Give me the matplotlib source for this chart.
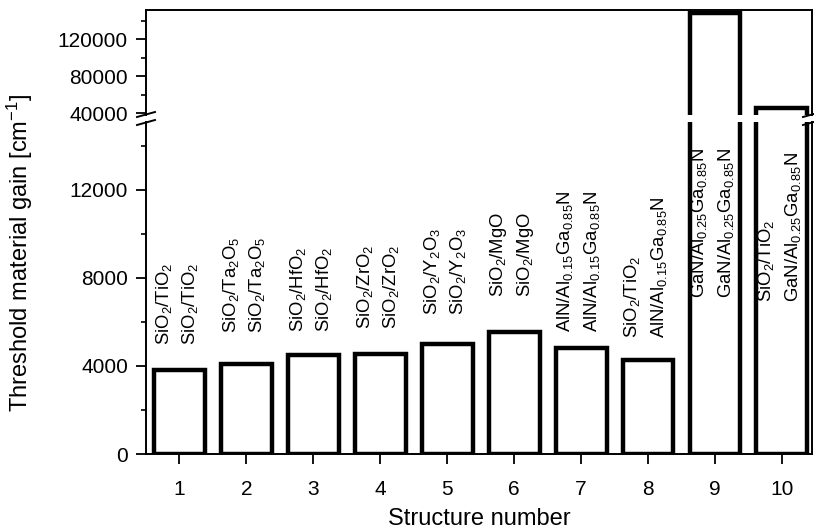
import matplotlib
matplotlib.use("Agg")
import matplotlib.pyplot as plt
from matplotlib.lines import Line2D

plt.rcParams["font.family"] = ["Liberation Sans", "DejaVu Sans"]
plt.rcParams["mathtext.fontset"] = "custom"
plt.rcParams["mathtext.rm"] = "Liberation Sans"
plt.rcParams["mathtext.it"] = "Liberation Sans:italic"
plt.rcParams["mathtext.default"] = "regular"

# data
structures = [1, 2, 3, 4, 5, 6, 7, 8, 9, 10]
gain = [3830, 4100, 4520, 4550, 5000, 5560, 4820, 4250, 148400, 45700]

label_left = [r"SiO$_2$/TiO$_2$", r"SiO$_2$/Ta$_2$O$_5$", r"SiO$_2$/HfO$_2$",
              r"SiO$_2$/ZrO$_2$", r"SiO$_2$/Y$_2$O$_3$", r"SiO$_2$/MgO",
              r"AlN/Al$_{0.15}$Ga$_{0.85}$N", r"SiO$_2$/TiO$_2$",
              r"GaN/Al$_{0.25}$Ga$_{0.85}$N", r"SiO$_2$/TiO$_2$"]
label_right = [r"SiO$_2$/TiO$_2$", r"SiO$_2$/Ta$_2$O$_5$", r"SiO$_2$/HfO$_2$",
               r"SiO$_2$/ZrO$_2$", r"SiO$_2$/Y$_2$O$_3$", r"SiO$_2$/MgO",
               r"AlN/Al$_{0.15}$Ga$_{0.85}$N", r"AlN/Al$_{0.15}$Ga$_{0.85}$N",
               r"GaN/Al$_{0.25}$Ga$_{0.85}$N", r"GaN/Al$_{0.25}$Ga$_{0.85}$N"]
# where each label text starts (data units of the lower panel)
label_start = [4950, 5510, 5560, 5680, 6320, 7150, 5560, 5270, 7090, 6900]

fig = plt.figure(figsize=(8.14, 5.32), dpi=100)
ax_top = fig.add_axes([0.1794, 0.7838, 0.8182, 0.1974])
ax_bot = fig.add_axes([0.1794, 0.1466, 0.8182, 0.6241])

for ax in (ax_top, ax_bot):
    ax.bar(structures, gain, width=0.76, facecolor="white", edgecolor="black",
           linewidth=3.2, joinstyle="miter")
    ax.set_xlim(0.5, 10.45)
    for s in ax.spines.values():
        s.set_linewidth(1.4)
    ax.tick_params(axis="y", which="major", direction="out", length=7, width=1.3,
                   labelsize=15, pad=6)
    ax.tick_params(axis="y", which="minor", direction="out", length=3.5, width=1.2)

ax_top.set_ylim(38160, 151700)
ax_top.set_yticks([40000, 80000, 120000])
ax_top.set_yticks([60000, 100000, 140000], minor=True)
ax_top.spines["bottom"].set_visible(False)
ax_top.set_xticks([])

ax_bot.set_ylim(0, 15090)
ax_bot.set_yticks([0, 4000, 8000, 12000])
ax_bot.set_yticks([2000, 6000, 10000, 14000], minor=True)
ax_bot.spines["top"].set_visible(False)
ax_bot.set_xticks(structures)
ax_bot.tick_params(axis="x", direction="out", length=7, width=1.3, labelsize=15, pad=12)

for i, x in enumerate(structures):
    for dx, txt in ((-0.16, label_left[i]), (0.235, label_right[i])):
        ax_bot.text(x + dx, label_start[i], txt, rotation=90, rotation_mode="anchor",
                    ha="left", va="baseline", fontsize=13.3)

# axis break marks
W, H = 814.0, 532.0
for xp in (146, 812):
    for yp in (114.5, 122.5):
        fig.add_artist(Line2D([(xp - 9) / W, (xp + 9) / W],
                              [1 - (yp + 2.5) / H, 1 - (yp - 2.5) / H],
                              color="black", linewidth=1.4))

fig.text(20 / W, 1 - 253 / H, r"Threshold material gain [cm$^{-1}$]", rotation=90,
         ha="center", va="center", fontsize=17)
fig.text(479 / W, 1 - 525 / H, "Structure number", ha="center", va="baseline",
         fontsize=17)

fig.savefig("out.png", dpi=100)
